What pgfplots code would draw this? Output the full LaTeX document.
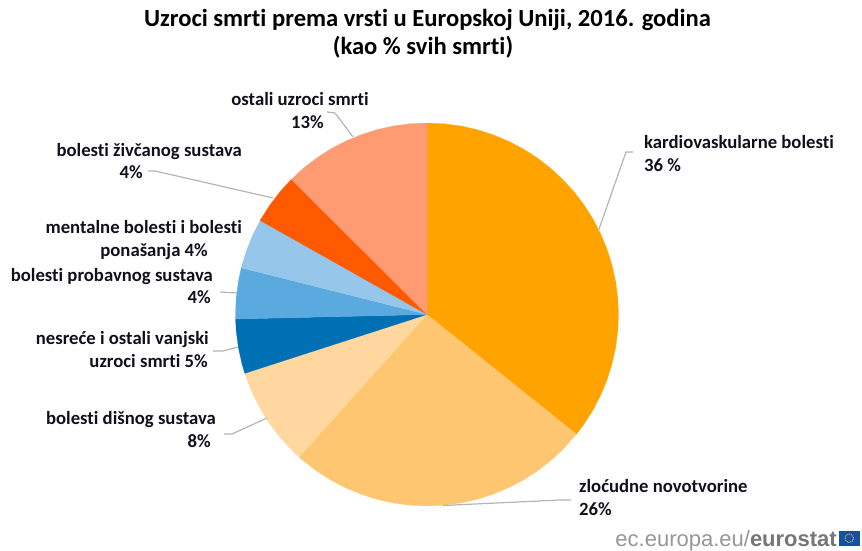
\documentclass[border=0pt]{standalone}
\usepackage{fontspec}
\setmainfont{Carlito}[Ligatures=NoCommon]
\newfontfamily\logofont{Liberation Sans}
\usepackage{pgfplots}
\pgfplotsset{compat=1.18}
\usepgfplotslibrary{polar}
\definecolor{cA}{HTML}{FFA300}
\definecolor{cB}{HTML}{FFC671}
\definecolor{cC}{HTML}{FFD79F}
\definecolor{cD}{HTML}{0070B5}
\definecolor{cE}{HTML}{5AAAE0}
\definecolor{cF}{HTML}{96C6EA}
\definecolor{cG}{HTML}{FF5A00}
\definecolor{cH}{HTML}{FF9B73}
\definecolor{lead}{HTML}{B4B4B4}
\definecolor{txt}{HTML}{10101C}
\newcommand{\lab}[4]{\node[anchor=base #1,inner sep=0pt,text=txt] at (#2pt,-#3pt) {\fontsize{18.7}{18.7}\selectfont\bfseries #4};}
\begin{document}
\begin{tikzpicture}
\path[use as bounding box] (0pt,-551pt) rectangle (862pt,0pt);
\begin{polaraxis}[
  at={(427pt,-314.5pt)}, anchor=center,
  scale only axis, width=383pt, height=383pt,
  hide axis, clip=false,
  xmin=0, xmax=360, ymin=0, ymax=1
]
% kardiovaskularne bolesti 36 %
\addplot[fill=cA,draw=cA,line width=0.2pt] coordinates {(0,0)(90,1)(85,1)(80,1)(75,1)(70,1)(65,1)(60,1)(55,1)(50,1)(45,1)(40,1)(35,1)(30,1)(25,1)(20,1)(15,1)(10,1)(5,1)(0,1)(-5,1)(-10,1)(-15,1)(-20,1)(-25,1)(-30,1)(-35,1)(-38.7,1)} --cycle;
% zlocudne novotvorine 26 %
\addplot[fill=cB,draw=cB,line width=0.2pt] coordinates {(0,0)(-38.7,1)(-45,1)(-50,1)(-55,1)(-60,1)(-65,1)(-70,1)(-75,1)(-80,1)(-85,1)(-90,1)(-95,1)(-100,1)(-105,1)(-110,1)(-115,1)(-120,1)(-125,1)(-130,1)(-131.9,1)} --cycle;
% bolesti disnog sustava 8 %
\addplot[fill=cC,draw=cC,line width=0.2pt] coordinates {(0,0)(-131.9,1)(-135,1)(-140,1)(-145,1)(-150,1)(-155,1)(-160,1)(-162.1,1)} --cycle;
% nesrece 5 %
\addplot[fill=cD,draw=cD,line width=0.2pt] coordinates {(0,0)(-162.1,1)(-165,1)(-170,1)(-175,1)(-178.65,1)} --cycle;
% probavni 4 %
\addplot[fill=cE,draw=cE,line width=0.2pt] coordinates {(0,0)(-178.65,1)(-180,1)(-185,1)(-190,1)(-194.1,1)} --cycle;
% mentalne 4 %
\addplot[fill=cF,draw=cF,line width=0.2pt] coordinates {(0,0)(-194.1,1)(-195,1)(-200,1)(-205,1)(-209.4,1)} --cycle;
% zivcani 4 %
\addplot[fill=cG,draw=cG,line width=0.2pt] coordinates {(0,0)(-209.4,1)(-210,1)(-215,1)(-220,1)(-224.9,1)} --cycle;
% ostali 13 %
\addplot[fill=cH,draw=cH,line width=0.2pt] coordinates {(0,0)(-224.9,1)(-230,1)(-235,1)(-240,1)(-245,1)(-250,1)(-255,1)(-260,1)(-265,1)(-270,1)} --cycle;
\end{polaraxis}
% leader lines
\begin{scope}[draw=lead,line width=1.2pt]
\draw (327pt,-112pt) -- (335pt,-113pt) -- (353pt,-137pt);
\draw (148pt,-171pt) -- (155pt,-171pt) -- (273pt,-198pt);
\draw (220pt,-292pt) -- (237pt,-293pt);
\draw (213pt,-351pt) -- (223pt,-351pt) -- (238pt,-347pt);
\draw (224pt,-434pt) -- (232pt,-434pt) -- (267pt,-418pt);
\draw (443pt,-505.5pt) -- (560pt,-500pt) -- (571pt,-500pt);
\draw (633pt,-152pt) -- (626pt,-152pt) -- (598pt,-232pt);
\end{scope}
% title
\node[anchor=base,inner sep=0pt] at (427.5pt,-27pt) {\fontsize{24.6}{24.6}\selectfont\bfseries Uzroci smrti prema vrsti u Europskoj Uniji, 2016. godina};
\node[anchor=base,inner sep=0pt] at (423pt,-55pt) {\fontsize{24.6}{24.6}\selectfont\bfseries (kao \% svih smrti)};
% labels
\lab{}{300}{105}{ostali uzroci smrti}
\lab{}{307.5}{128}{13\%}
\lab{east}{242}{156}{bolesti živčanog sustava}
\lab{east}{143}{178}{4\%}
\lab{east}{242}{233}{mentalne bolesti i bolesti}
\lab{east}{208}{256}{ponašanja 4\%}
\lab{east}{213}{281}{bolesti probavnog sustava}
\lab{east}{211}{303}{4\%}
\lab{east}{209}{344}{nesreće i ostali vanjski}
\lab{east}{208}{367}{uzroci smrti 5\%}
\lab{east}{216}{424}{bolesti dišnog sustava}
\lab{east}{211}{447}{8\%}
\lab{west}{579}{492}{zloćudne novotvorine}
\lab{west}{579}{515}{26\%}
\lab{west}{644}{148}{kardiovaskularne bolesti}
\lab{west}{644}{171}{36 \%}
% logo
\node[anchor=base east,inner sep=0pt] at (837pt,-546pt) {\fontsize{22}{22}\selectfont\logofont\textcolor[HTML]{969696}{ec.europa.eu/}\textcolor[HTML]{767676}{\bfseries eurostat}};
\fill[fill={rgb,255:red,20;green,80;blue,165}] (838.5pt,-531pt) rectangle (860pt,-545.5pt);
\draw[color={rgb,255:red,230;green,205;blue,70},line width=0.9pt,densely dotted] (849.2pt,-538.2pt) circle (4.3pt);
\end{tikzpicture}
\end{document}
